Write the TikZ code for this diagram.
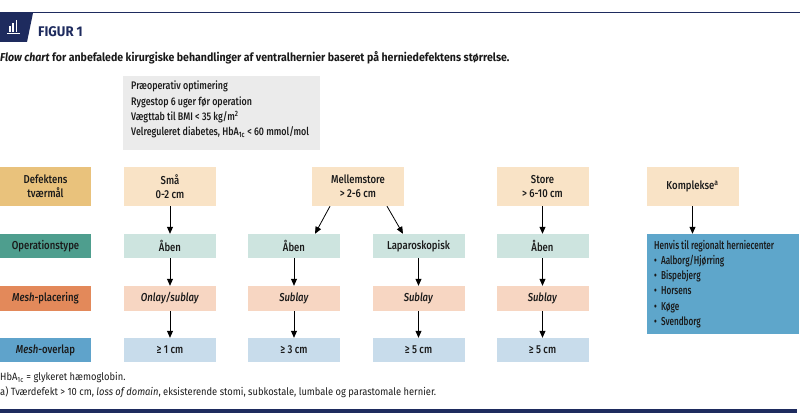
\documentclass[tikz,border=0pt]{standalone}
\usepackage{fontspec}
\setmainfont{Fira Sans}[FakeStretch=0.8]
\newfontfamily\medfont{Fira Sans Medium}[FakeStretch=0.83,ItalicFont={Fira Sans Medium Italic}]
\newfontfamily\grayfont{Fira Sans Medium}[FakeStretch=0.81]
\newfontfamily\henfont{Fira Sans Medium}[FakeStretch=0.71]
\newfontfamily\capfont{Fira Sans}[FakeStretch=0.92]
\newfontfamily\fnfont{Fira Sans}[FakeStretch=0.89]
\newfontfamily\figfont{Fira Sans}[FakeStretch=0.94]
\usetikzlibrary{arrows.meta,positioning}
\definecolor{navy}{HTML}{1E2B5E}
\definecolor{goldlab}{HTML}{E9C27C}
\definecolor{peach}{HTML}{F9E3C6}
\definecolor{teallab}{HTML}{4E9E8E}
\definecolor{lteal}{HTML}{CDE4DF}
\definecolor{orlab}{HTML}{E3895A}
\definecolor{lorange}{HTML}{F7D6C2}
\definecolor{bluelab}{HTML}{5FA3CB}
\definecolor{lblue}{HTML}{C8DCEB}
\definecolor{henvis}{HTML}{5EA6CB}
\definecolor{lgray}{HTML}{EBEBEB}
\definecolor{txt}{HTML}{1A1A1A}
\tikzset{
  box/.style={minimum width=92pt,inner sep=0pt,align=center,text=txt,font=\medfont\fontsize{11.5}{14}\selectfont},
  r1/.style={box,minimum height=39pt},
  r2/.style={box,minimum height=24pt},
  r3/.style={box,minimum height=25pt},
  r4/.style={box,minimum height=24pt},
  lab/.style={minimum width=91pt},
  arr/.style={line width=0.8pt,-{Triangle[length=7pt,width=6pt]}},
}
\begin{document}
\begin{tikzpicture}[x=1pt,y=-1pt]
\useasboundingbox (0,0) rectangle (800,417);
% header
\draw[navy,line width=1pt] (0,13) -- (800,13);
\fill[navy] (0,13) -- (33,13) -- (27,42) -- (0,42) -- cycle;
\fill[white] (9,26) rectangle (10.8,32.5);
\fill[white] (12.3,23) rectangle (14.1,32.5);
\fill[white] (15.6,20) rectangle (17.4,32.5);
\fill[white] (7,33.3) rectangle (19.5,34.5);
\node[anchor=west,text=navy,font=\figfont\fontsize{14}{16}\bfseries\selectfont,inner sep=0pt] (fig) at (38,32) {FIGUR 1};
\node[anchor=west,text=txt,font=\capfont\fontsize{11.5}{13}\bfseries\selectfont,inner sep=0pt] (cap) at (0,58) {\textit{Flow chart} for anbefalede kirurgiske behandlinger af ventralhernier baseret på herniedefektens størrelse.};
% gray box
\node[fill=lgray,minimum width=197pt,minimum height=74pt,inner sep=0pt] (pre) at (221.5,113) {};
\node[anchor=north west,inner sep=0pt,align=left,text=txt,font=\grayfont\fontsize{11}{15.3}\selectfont] (pretxt) at (131,81) {Præoperativ optimering\\Rygestop 6 uger før operation\\Vægttab til BMI < 35 kg/m\textsuperscript{2}\\Velreguleret diabetes, HbA\textsubscript{1c} < 60 mmol/mol};
% row labels
\node[r1,lab,fill=goldlab] (l1) at (45.5,186.5) {Defektens\\tværmål};
\node[r2,lab,fill=teallab] (l2) at (45.5,246) {Operationstype};
\node[r3,lab,fill=orlab] (l3) at (45.5,298.5) {\textit{Mesh}-placering};
\node[r4,lab,fill=bluelab] (l4) at (45.5,350) {\textit{Mesh}-overlap};
% row 1
\node[r1,fill=peach] (sma) at (170,186.5) {Små\\0-2 cm};
\node[r1,fill=peach] (mel) at (358,186.5) {Mellemstore\\> 2-6 cm};
\node[r1,fill=peach] (sto) at (542.5,186.5) {Store\\> 6-10 cm};
\node[r1,fill=peach] (kom) at (692.5,186.5) {Komplekse\textsuperscript{a}};
% row 2
\node[r2,fill=lteal] (ab1) at (170,246) {Åben};
\node[r2,fill=lteal] (ab2) at (294,246) {Åben};
\node[r2,fill=lteal] (lap) at (418.5,246) {Laparoskopisk};
\node[r2,fill=lteal] (ab3) at (542.5,246) {Åben};
\node[fill=henvis,minimum width=152pt,minimum height=100pt,inner sep=0pt] (hen) at (723,284) {};
\node[anchor=north west,inner sep=0pt,align=left,text=txt,font=\henfont\fontsize{11.5}{15.2}\selectfont] (hentxt) at (654,240.5) {Henvis til regionalt herniecenter\\[-0.5pt]
\textbullet\ \ Aalborg/Hjørring\\
\textbullet\ \ Bispebjerg\\
\textbullet\ \ Horsens\\
\textbullet\ \ Køge\\
\textbullet\ \ Svendborg};
% row 3
\node[r3,fill=lorange] (p1) at (170,298.5) {\textit{Onlay/sublay}};
\node[r3,fill=lorange] (p2) at (294,298.5) {\textit{Sublay}};
\node[r3,fill=lorange] (p3) at (418.5,298.5) {\textit{Sublay}};
\node[r3,fill=lorange] (p4) at (542.5,298.5) {\textit{Sublay}};
% row 4
\node[r4,fill=lblue] (o1) at (170,350) {≥ 1 cm};
\node[r4,fill=lblue] (o2) at (294,350) {≥ 3 cm};
\node[r4,fill=lblue] (o3) at (418.5,350) {≥ 5 cm};
\node[r4,fill=lblue] (o4) at (542.5,350) {≥ 5 cm};
% arrows
\draw[arr] (sma) -- (ab1);
\draw[arr] (ab1) -- (p1);
\draw[arr] (p1) -- (o1);
\draw[arr] ([xshift=-28pt]mel.south) -- ([xshift=21pt]ab2.north);
\draw[arr] ([xshift=29pt]mel.south) -- ([xshift=-15.5pt]lap.north);
\draw[arr] (ab2) -- (p2);
\draw[arr] (p2) -- (o2);
\draw[arr] (lap) -- (p3);
\draw[arr] (p3) -- (o3);
\draw[arr] (sto) -- (ab3);
\draw[arr] (ab3) -- (p4);
\draw[arr] (p4) -- (o4);
\draw[arr] (kom) -- (kom|-hen.north);
% footnotes
\node[anchor=west,inner sep=0pt,text=txt,font=\fnfont\fontsize{10.5}{12}\selectfont] (fn1) at (0,378) {HbA\textsubscript{1c} = glykeret hæmoglobin.};
\node[anchor=west,inner sep=0pt,text=txt,font=\fnfont\fontsize{10.5}{12}\selectfont] (fn2) at (0,392.5) {a) Tværdefekt > 10 cm, \textit{loss of domain}, eksisterende stomi, subkostale, lumbale og parastomale hernier.};
\draw[navy,line width=3.5pt] (0,411) -- (797,411);
\end{tikzpicture}
\end{document}
